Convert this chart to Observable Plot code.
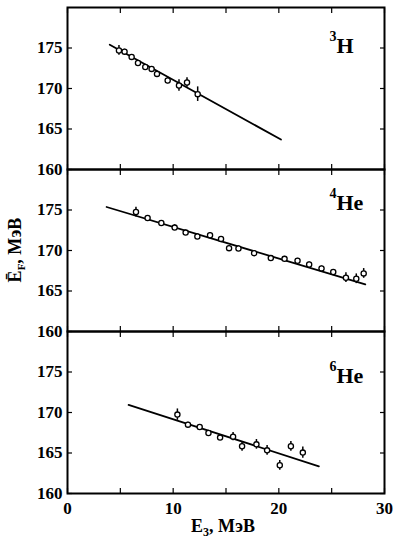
<!DOCTYPE html>
<html><head><meta charset="utf-8">
<script src="https://cdn.jsdelivr.net/npm/d3@7"></script>
<script src="https://cdn.jsdelivr.net/npm/@observablehq/plot@0.6"></script>
<style>body{margin:0;background:#fff}</style>
</head><body><div id="chart"></div>
<script>
const panels = ["3H", "4He", "6He"];
const panelMass = ["3", "4", "6"];
const panelElem = ["H", "He", "He"];

// 3H
const h3E   = [4.87, 5.40, 6.07, 6.67, 7.36, 7.96, 8.47, 9.48, 10.55, 11.31, 12.32];
const h3F   = [174.7, 174.55, 173.9, 173.15, 172.66, 172.42, 171.8, 170.99, 170.37, 170.74, 169.3];
const h3Err = [0.6, 0.3, 0.3, 0.3, 0.3, 0.3, 0.3, 0.4, 0.7, 0.6, 0.9];
const h3Fit = [[4.0, 175.4], [20.2, 163.7]];

// 4He
const he4E   = [6.48, 7.58, 8.88, 10.14, 11.18, 12.29, 13.49, 14.53, 15.29, 16.18, 17.66, 19.24, 20.54, 21.77, 22.87, 24.04, 25.15, 26.35, 27.33, 28.03];
const he4F   = [174.75, 174.02, 173.4, 172.83, 172.21, 171.72, 171.88, 171.43, 170.29, 170.24, 169.67, 169.06, 168.97, 168.73, 168.28, 167.79, 167.34, 166.64, 166.51, 167.17];
const he4Err = [0.6, 0.3, 0.3, 0.35, 0.3, 0.3, 0.3, 0.3, 0.3, 0.3, 0.3, 0.3, 0.3, 0.3, 0.3, 0.3, 0.3, 0.6, 0.6, 0.6];
const he4Fit = [[3.7, 175.37], [28.18, 165.81]];

// 6He
const he6E   = [10.40, 11.40, 12.51, 13.34, 14.44, 15.67, 16.52, 17.88, 18.89, 20.09, 21.14, 22.27];
const he6F   = [169.74, 168.5, 168.21, 167.47, 166.9, 167.02, 165.83, 166.07, 165.33, 163.48, 165.83, 165.05];
const he6Err = [0.7, 0.3, 0.3, 0.3, 0.3, 0.5, 0.6, 0.6, 0.6, 0.6, 0.6, 0.7];
const he6Fit = [[5.78, 170.93], [23.79, 163.36]];

const xTicks = [0, 10, 20, 30];
const xMinor = [0, 5, 10, 15, 20, 25, 30];
const yTicks = [160, 165, 170, 175];

const series = [[h3E, h3F, h3Err, h3Fit], [he4E, he4F, he4Err, he4Fit], [he6E, he6F, he6Err, he6Fit]];
const points = [], fits = [];
series.forEach(([E, F, Err, Fit], i) => {
  E.forEach((e, j) => points.push({panel: panels[i], E: e, F: F[j], err: Err[j]}));
  Fit.forEach(([e, f]) => fits.push({panel: panels[i], E: e, F: f}));
});

const labelDy = [45, 40, 51];
const labelMarks = panels.flatMap((p, i) => [
  Plot.text([{panel: p, t: panelMass[i]}], {text: "t", fy: "panel", frameAnchor: "top-left", dx: 262, dy: labelDy[i] - 12, lineAnchor: "bottom", textAnchor: "start", fontSize: 14, fontWeight: "bold", fill: "#000"}),
  Plot.text([{panel: p, t: panelElem[i]}], {text: "t", fy: "panel", frameAnchor: "top-left", dx: 269, dy: labelDy[i], lineAnchor: "bottom", textAnchor: "start", fontSize: 22, fontWeight: "bold", fill: "#000"})
]);

const font = "'Liberation Serif', 'Times New Roman', serif";
const plot = Plot.plot({
  width: 395, height: 543,
  marginLeft: 67, marginRight: 11, marginTop: 6, marginBottom: 50,
  style: {fontFamily: font, fontSize: "17px", fontWeight: "bold", color: "#000", background: "#fff"},
  x: {domain: [0, 30]},
  y: {domain: [160, 180]},
  fy: {domain: panels, axis: null, padding: 0},
  marks: [
    Plot.frame({strokeWidth: 2}),
    Plot.axisX({anchor: "bottom", ticks: xMinor, tickSize: -5, tickFormat: () => "", facetAnchor: null, label: null, strokeWidth: 1.2}),
    Plot.axisX({anchor: "top", ticks: xMinor, tickSize: -5, tickFormat: () => "", facetAnchor: null, label: null, strokeWidth: 1.2}),
    Plot.axisX({anchor: "bottom", ticks: xTicks, tickSize: 0, tickPadding: 8, label: null, fontSize: 17, fill: "#000"}),
    Plot.axisY({anchor: "left", ticks: yTicks, tickSize: -5, tickFormat: () => "", label: null, strokeWidth: 1.2}),
    Plot.axisY({anchor: "right", ticks: yTicks, tickSize: -5, tickFormat: () => "", label: null, strokeWidth: 1.2}),
    Plot.axisY({anchor: "left", ticks: yTicks, tickSize: 0, tickPadding: 5, label: null, fontSize: 17, fill: "#000"}),
    Plot.line(fits, {x: "E", y: "F", fy: "panel", z: "panel", stroke: "#000", strokeWidth: 1.8}),
    Plot.ruleX(points, {x: "E", y1: d => d.F - d.err, y2: d => d.F + d.err, fy: "panel", stroke: "#000", strokeWidth: 1.5}),
    Plot.dot(points, {x: "E", y: "F", fy: "panel", r: 2.6, stroke: "#000", strokeWidth: 1.3, fill: "#fff"}),
    ...labelMarks
  ]
});
document.getElementById("chart").appendChild(plot);

const svg = d3.select(plot);
const yl = svg.append("text")
  .attr("transform", "translate(21,250) rotate(-90)")
  .attr("text-anchor", "middle")
  .attr("font-family", font).attr("font-weight", "bold").attr("font-size", 18).attr("fill", "#000");
yl.append("tspan").text("Ē");
yl.append("tspan").attr("font-size", 11).attr("dy", 4).text("F");
yl.append("tspan").attr("dy", -4).text(", МэВ");

const xl = svg.append("text")
  .attr("x", 223).attr("y", 532)
  .attr("text-anchor", "middle")
  .attr("font-family", font).attr("font-weight", "bold").attr("font-size", 18).attr("fill", "#000");
xl.append("tspan").text("E");
xl.append("tspan").attr("font-size", 12).attr("dy", 4).text("3");
xl.append("tspan").attr("dy", -4).text(", МэВ");
</script></body></html>
